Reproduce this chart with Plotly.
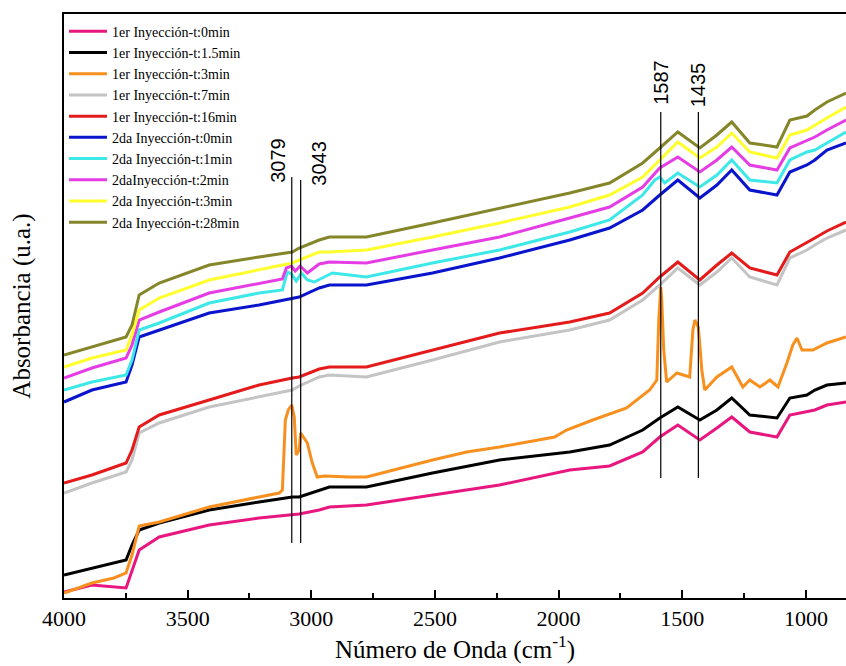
import plotly.graph_objects as go

# Wavenumber grid (cm-1) shared by most spectra
wn = [4000, 3887, 3749, 3725, 3696, 3615, 3413, 3211, 3077, 3049, 2968, 2927, 2777,
      2510, 2239, 1955, 1794, 1660, 1591, 1518, 1429, 1360, 1300, 1227, 1117, 1065,
      996, 964, 915, 838]

# First injection
abs_1_t0 = [0.06, 0.13, 0.10, 0.28, 0.48, 0.61, 0.73, 0.80, 0.83, 0.84, 0.88, 0.91, 0.93,
            1.03, 1.13, 1.28, 1.32, 1.46, 1.61, 1.73, 1.58, 1.70, 1.81, 1.66, 1.61, 1.83,
            1.86, 1.88, 1.93, 1.96]
abs_1_t15 = [0.23, 0.30, 0.38, 0.53, 0.68, 0.75, 0.88, 0.96, 1.01, 1.01, 1.08, 1.11, 1.11,
             1.25, 1.38, 1.46, 1.53, 1.68, 1.80, 1.91, 1.78, 1.88, 2.00, 1.83, 1.80, 2.00,
             2.03, 2.08, 2.13, 2.15]

wn_1_t3 = [4000, 3887, 3798, 3749, 3725, 3696, 3615, 3413, 3211, 3130, 3117, 3105, 3093,
           3079, 3069, 3061, 3049, 3043, 3016, 2996, 2976, 2947, 2846, 2777, 2510, 2372,
           2239, 2016, 1968, 1862, 1725, 1632, 1603, 1595, 1587, 1583, 1575, 1563, 1522,
           1470, 1457, 1449, 1435, 1421, 1409, 1360, 1300, 1255, 1227, 1186, 1146, 1113,
           1077, 1053, 1036, 1016, 972, 915, 838]
abs_1_t3 = [0.05, 0.15, 0.20, 0.25, 0.43, 0.72, 0.76, 0.91, 1.01, 1.05, 1.08, 1.78, 1.88,
            1.93, 1.81, 1.43, 1.48, 1.65, 1.55, 1.35, 1.21, 1.22, 1.21, 1.21, 1.38, 1.46,
            1.51, 1.61, 1.68, 1.78, 1.90, 2.08, 2.18, 2.78, 3.11, 2.98, 2.48, 2.16, 2.25,
            2.21, 2.68, 2.78, 2.71, 2.28, 2.08, 2.21, 2.31, 2.11, 2.18, 2.11, 2.18, 2.11,
            2.35, 2.53, 2.60, 2.48, 2.48, 2.55, 2.61]

abs_1_t7 = [1.05, 1.15, 1.26, 1.38, 1.65, 1.75, 1.91, 2.01, 2.08, 2.12, 2.21, 2.23, 2.21,
            2.38, 2.56, 2.68, 2.78, 2.98, 3.13, 3.30, 3.13, 3.26, 3.40, 3.21, 3.13, 3.40,
            3.48, 3.53, 3.60, 3.68]
abs_1_t16 = [1.15, 1.23, 1.35, 1.48, 1.71, 1.83, 1.98, 2.13, 2.20, 2.21, 2.29, 2.31, 2.31,
             2.48, 2.65, 2.76, 2.85, 3.05, 3.21, 3.36, 3.18, 3.33, 3.45, 3.30, 3.23, 3.46,
             3.55, 3.60, 3.67, 3.76]

# Second injection
abs_2_t0 = [1.96, 2.08, 2.16, 2.33, 2.61, 2.68, 2.85, 2.93, 3.00, 3.01, 3.10, 3.13, 3.13,
            3.25, 3.40, 3.58, 3.70, 3.88, 4.03, 4.18, 4.00, 4.13, 4.28, 4.08, 4.03, 4.26,
            4.33, 4.38, 4.48, 4.55]

wn_2_t1 = [4000, 3887, 3749, 3725, 3696, 3615, 3413, 3211, 3117, 3097, 3081, 3061, 3040,
           3016, 2988, 2915, 2777, 2510, 2239, 1955, 1794, 1660, 1611, 1591, 1571, 1518,
           1429, 1360, 1300, 1227, 1117, 1065, 996, 964, 915, 838]
abs_2_t1 = [2.08, 2.16, 2.23, 2.38, 2.68, 2.75, 2.95, 3.05, 3.08, 3.26, 3.24, 3.17, 3.25,
            3.18, 3.16, 3.25, 3.21, 3.35, 3.48, 3.66, 3.78, 4.03, 4.18, 4.21, 4.15, 4.25,
            4.11, 4.23, 4.38, 4.18, 4.15, 4.38, 4.46, 4.48, 4.55, 4.66]

wn_2_t2 = [4000, 3887, 3749, 3725, 3696, 3615, 3413, 3211, 3117, 3101, 3081, 3065, 3045,
           3016, 2968, 2927, 2777, 2510, 2239, 1955, 1794, 1660, 1591, 1518, 1429, 1360,
           1300, 1227, 1117, 1065, 996, 964, 915, 838]
abs_2_t2 = [2.20, 2.30, 2.40, 2.53, 2.78, 2.86, 3.05, 3.15, 3.19, 3.30, 3.32, 3.27, 3.32,
            3.25, 3.34, 3.36, 3.35, 3.48, 3.61, 3.80, 3.91, 4.11, 4.30, 4.41, 4.26, 4.38,
            4.51, 4.33, 4.28, 4.50, 4.58, 4.61, 4.68, 4.78]

abs_2_t3 = [2.31, 2.40, 2.48, 2.63, 2.88, 3.00, 3.18, 3.28, 3.35, 3.38, 3.46, 3.46, 3.48,
            3.61, 3.75, 3.91, 4.03, 4.21, 4.38, 4.56, 4.40, 4.51, 4.65, 4.46, 4.40, 4.63,
            4.68, 4.73, 4.80, 4.91]
abs_2_t28 = [2.43, 2.51, 2.61, 2.73, 3.03, 3.15, 3.33, 3.41, 3.46, 3.50, 3.58, 3.61, 3.61,
             3.75, 3.90, 4.05, 4.15, 4.35, 4.50, 4.66, 4.50, 4.63, 4.76, 4.55, 4.51, 4.78,
             4.82, 4.88, 4.96, 5.05]

names = ["1er Inyección-t:0min", "1er Inyección-t:1.5min", "1er Inyección-t:3min",
         "1er Inyección-t:7min", "1er Inyección-t:16min", "2da Inyección-t:0min",
         "2da Inyección-t:1min", "2daInyección-t:2min", "2da Inyección-t:3min",
         "2da Inyección-t:28min"]
colors = ["#E8177F", "#000000", "#F7901E", "#C4C4C4", "#E31B1B",
          "#0A14CC", "#3CE8E8", "#E63CE6", "#FFFF2E", "#85852A"]
xs = [wn, wn, wn_1_t3, wn, wn, wn, wn_2_t1, wn_2_t2, wn, wn]
ys = [abs_1_t0, abs_1_t15, abs_1_t3, abs_1_t7, abs_1_t16,
      abs_2_t0, abs_2_t1, abs_2_t2, abs_2_t3, abs_2_t28]

# Marked bands (cm-1)
peaks = [3079, 3043, 1587, 1435]

SERIF = "Liberation Serif, Times New Roman, serif"
SANS = "Liberation Sans, Arial, sans-serif"

fig = go.Figure()
for name, x, y, c in zip(names, xs, ys, colors):
    fig.add_trace(go.Scatter(x=x, y=y, mode="lines", name=name,
                             line=dict(color=c, width=3)))

# Vertical marker lines and their rotated labels
line_spans = {3079: (0.55, 4.21), 3043: (0.55, 4.18), 1587: (1.20, 4.86), 1435: (1.20, 4.86)}
label_pos = {3079: (4.38, -14), 3043: (4.35, 18), 1587: (5.16, 0), 1435: (5.13, 0)}
for p in peaks:
    y0, y1 = line_spans[p]
    fig.add_shape(type="line", x0=p, x1=p, y0=y0, y1=y1, xref="x", yref="y",
                  line=dict(color="black", width=1.2))
    ly, sh = label_pos[p]
    fig.add_annotation(x=p, y=ly, text=str(p), textangle=-90, showarrow=False,
                       xshift=sh, font=dict(family=SANS, size=20, color="black"))

fig.update_layout(
    width=846, height=666,
    margin=dict(l=64, r=0, t=14, b=68),
    paper_bgcolor="white", plot_bgcolor="white",
    showlegend=True,
    legend=dict(x=0, y=0.997, xanchor="left", yanchor="top",
                bgcolor="rgba(0,0,0,0)", borderwidth=0,
                font=dict(family=SERIF, size=14, color="black"),
                itemwidth=38, tracegroupgap=0),
    xaxis=dict(range=[4000, 838], showgrid=False, zeroline=False,
               showline=True, linecolor="black", linewidth=2, mirror=True,
               ticks="inside", ticklen=8, tickwidth=2, tickcolor="black",
               tickvals=[4000, 3500, 3000, 2500, 2000, 1500, 1000],
               minor=dict(ticks="inside", ticklen=5, tickwidth=2, tickcolor="black",
                          dtick=250, showgrid=False),
               tickfont=dict(family=SERIF, size=22, color="black"),
               title=dict(text="Número de Onda (cm<sup>-1</sup>)",
                          font=dict(family=SERIF, size=25, color="black"), standoff=3)),
    yaxis=dict(range=[0, 5.84], showgrid=False, zeroline=False,
               showline=True, linecolor="black", linewidth=2, mirror=False,
               showticklabels=False, ticks="",
               title=dict(text="Absorbancia (u.a.)",
                          font=dict(family=SERIF, size=25, color="black"), standoff=24)),
)

fig.write_html("out.html")
